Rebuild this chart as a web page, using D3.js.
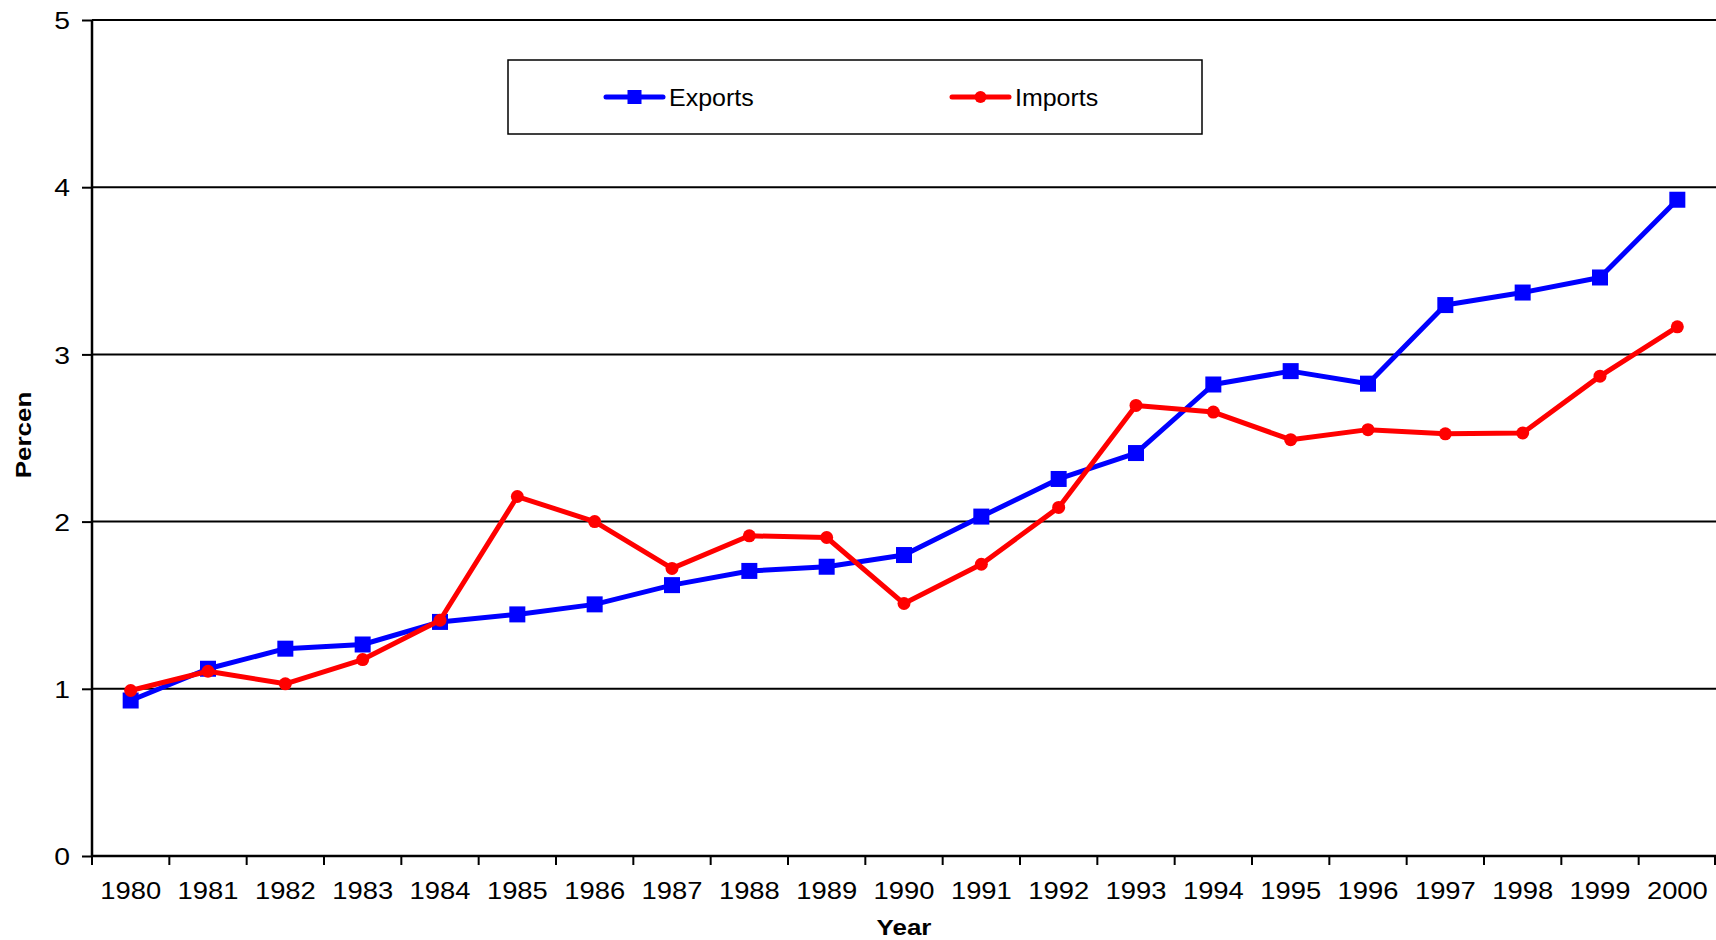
<!DOCTYPE html>
<html>
<head>
<meta charset="utf-8">
<script src="https://cdn.jsdelivr.net/npm/d3@7"></script>
<style>
  html, body { margin: 0; padding: 0; background: #fff; }
  svg { display: block; font-family: "Liberation Sans", Arial, sans-serif; }
</style>
</head>
<body>
<svg id="chart" width="1716" height="940"></svg>
<script>
const years = ["1980","1981","1982","1983","1984","1985","1986","1987","1988","1989","1990",
               "1991","1992","1993","1994","1995","1996","1997","1998","1999","2000"];
const exportsVals = [0.93, 1.12, 1.24, 1.265, 1.40, 1.445, 1.505, 1.62, 1.705, 1.73, 1.80,
                     2.03, 2.255, 2.41, 2.82, 2.90, 2.825, 3.295, 3.37, 3.46, 3.925];
const importsVals = [0.99, 1.105, 1.03, 1.175, 1.41, 2.15, 2.00, 1.72, 1.915, 1.905, 1.51,
                     1.745, 2.085, 2.695, 2.655, 2.49, 2.55, 2.525, 2.53, 2.87, 3.165];
const yTicks = [0, 1, 2, 3, 4, 5];
const seriesNames = ["Exports", "Imports"];
const seriesColors = ["#0000ff", "#ff0000"];

const W = 1716, H = 940;
const m = {left: 92, right: 0, top: 20, bottom: 84};
const svg = d3.select("#chart");
const STRETCH = 1.18;

const x = d3.scaleBand().domain(years).range([m.left, W - m.right]).padding(0);
const y = d3.scaleLinear().domain([0, 5]).range([H - m.bottom, m.top]);

function stretch(sel, k) {
  sel.each(function() {
    const len = this.getComputedTextLength();
    d3.select(this).attr("textLength", len * (k || STRETCH)).attr("lengthAdjust", "spacingAndGlyphs");
  });
}

// gridlines
svg.append("g").selectAll("line").data(yTicks.filter(d => d > 0)).join("line")
  .attr("x1", m.left).attr("x2", W - m.right)
  .attr("y1", d => y(d)).attr("y2", d => y(d))
  .attr("stroke", "#000").attr("stroke-width", 2);

// y axis
const yAxis = svg.append("g").attr("transform", `translate(${m.left},0)`)
  .call(d3.axisLeft(y).tickValues(yTicks).tickSize(10).tickPadding(12).tickFormat(d3.format("d")));
yAxis.select(".domain").attr("stroke", "#000").attr("stroke-width", 2.5).attr("d", `M0,${y(0)}V${y(5)}`);
yAxis.selectAll(".tick line").attr("stroke", "#000").attr("stroke-width", 2);
yAxis.selectAll(".tick text").attr("font-size", 24).attr("fill", "#000")
  .attr("font-family", "Liberation Sans, Arial, sans-serif").attr("dy", "0.36em").call(stretch);

// x axis
const xAxis = svg.append("g").attr("transform", `translate(0,${y(0)})`)
  .call(d3.axisBottom(x).tickSize(0).tickPadding(38));
xAxis.select(".domain").attr("stroke", "#000").attr("stroke-width", 2.5).attr("d", `M${m.left},0H${W}`);
xAxis.selectAll(".tick text").attr("font-size", 24).attr("fill", "#000")
  .attr("font-family", "Liberation Sans, Arial, sans-serif").attr("dy", "0.2em")
  .call(stretch, 1.14);
const bounds = years.map(d => x(d)).concat([x(years[years.length - 1]) + x.bandwidth()]);
xAxis.append("g").selectAll("line").data(bounds).join("line")
  .attr("x1", d => Math.min(d, W - 1)).attr("x2", d => Math.min(d, W - 1))
  .attr("y1", 0).attr("y2", 9)
  .attr("stroke", "#000").attr("stroke-width", 2);

// axis titles
svg.append("text").attr("x", (m.left + W) / 2).attr("y", 935)
  .attr("text-anchor", "middle").attr("font-size", 22).attr("font-weight", "bold")
  .text("Year").call(stretch);
svg.append("text").attr("transform", "translate(31,435) rotate(-90)")
  .attr("text-anchor", "middle").attr("font-size", 22).attr("font-weight", "bold")
  .text("Percen").call(stretch);

// series
const seriesData = [exportsVals, importsVals];
const line = d3.line().x((d, i) => x(years[i]) + x.bandwidth() / 2).y(d => y(d));
seriesData.forEach((vals, s) => {
  const g = svg.append("g");
  g.append("path").datum(vals).attr("d", line)
    .attr("fill", "none").attr("stroke", seriesColors[s]).attr("stroke-width", 5)
    .attr("stroke-linejoin", "round");
  if (s === 0) {
    g.selectAll("rect").data(vals).join("rect")
      .attr("x", (d, i) => x(years[i]) + x.bandwidth() / 2 - 8)
      .attr("y", d => y(d) - 8)
      .attr("width", 16).attr("height", 16).attr("fill", seriesColors[s]);
  } else {
    g.selectAll("circle").data(vals).join("circle")
      .attr("cx", (d, i) => x(years[i]) + x.bandwidth() / 2)
      .attr("cy", d => y(d)).attr("r", 6.5).attr("fill", seriesColors[s]);
  }
});

// legend
const lg = svg.append("g");
lg.append("rect").attr("x", 508).attr("y", 60).attr("width", 694).attr("height", 74)
  .attr("fill", "#fff").attr("stroke", "#000").attr("stroke-width", 1.5);
const legendX = [606, 952];
seriesNames.forEach((name, s) => {
  const lx = legendX[s], ly = 97;
  lg.append("line").attr("x1", lx).attr("x2", lx + 57).attr("y1", ly).attr("y2", ly)
    .attr("stroke", seriesColors[s]).attr("stroke-width", 5).attr("stroke-linecap", "round");
  if (s === 0) {
    lg.append("rect").attr("x", lx + 28.5 - 7).attr("y", ly - 7).attr("width", 14).attr("height", 14)
      .attr("fill", seriesColors[s]);
  } else {
    lg.append("circle").attr("cx", lx + 28.5).attr("cy", ly).attr("r", 6).attr("fill", seriesColors[s]);
  }
  lg.append("text").attr("x", lx + 63).attr("y", ly).attr("dy", "0.36em")
    .attr("font-size", 24).attr("fill", "#000").text(name)
    .call(stretch, 1.04);
});
</script>
</body>
</html>
